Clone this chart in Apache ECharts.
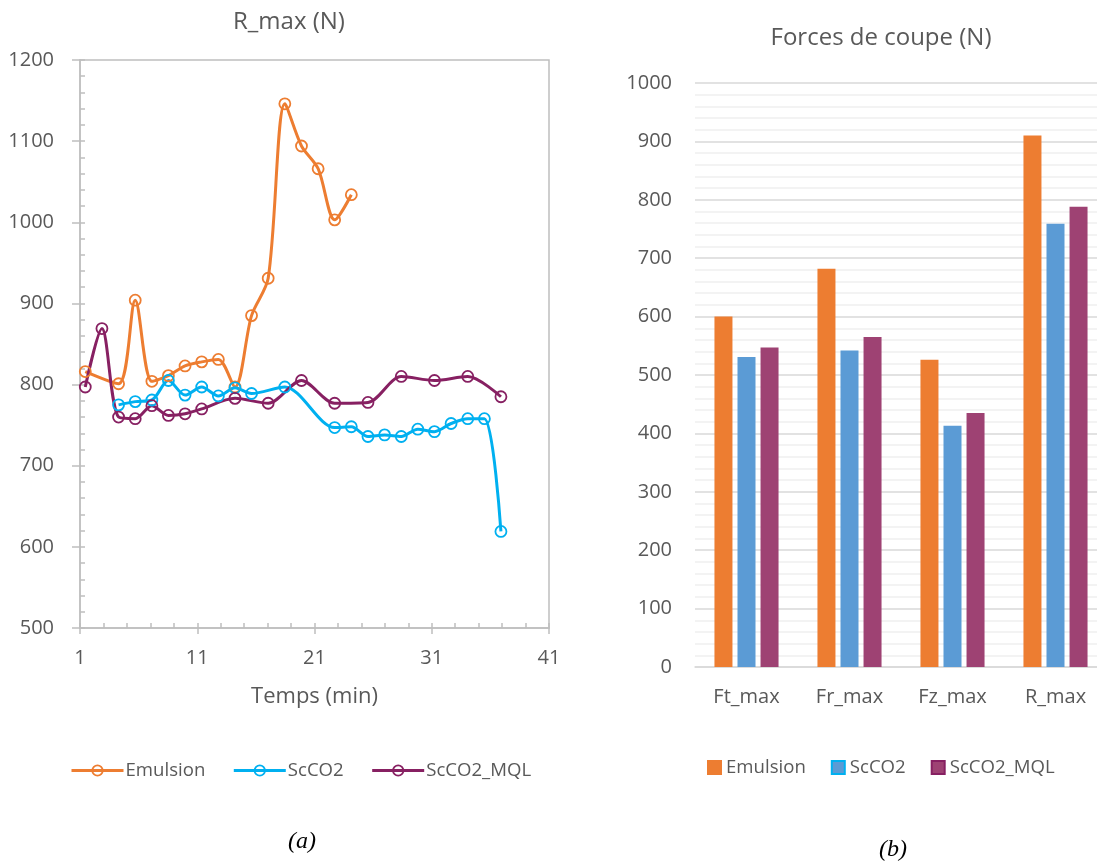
<!DOCTYPE html>
<html><head><meta charset="utf-8">
<script src="https://cdn.jsdelivr.net/npm/echarts@6/dist/echarts.min.js"></script>
<style>html,body{margin:0;padding:0;background:#fff}#c{width:1097px;height:863px}</style>
</head><body><div id="c"></div>
<script>
// ---- Left chart (a): R_max (N) vs Temps (min)
const emulsionT = [1.45, 4.29, 5.71, 7.13, 8.54, 9.96, 11.38, 12.80, 14.22, 15.63, 17.05, 18.47, 19.89, 21.31, 22.72, 24.14];
const emulsionV = [816, 801, 904, 804, 811, 823, 828, 831, 797, 885, 931, 1146, 1094, 1066, 1003, 1034];
const scco2T = [4.29, 5.71, 7.13, 8.54, 9.96, 11.38, 12.80, 14.22, 15.63, 18.47, 22.72, 24.14, 25.56, 26.98, 28.40, 29.81, 31.23, 32.65, 34.07, 35.49, 36.90];
const scco2V = [775, 779, 781, 805, 787, 797, 786, 796, 789, 797, 747, 748, 736, 738, 736, 745, 742, 752, 758, 758, 619];
const mqlT = [1.45, 2.87, 4.29, 5.71, 7.13, 8.54, 9.96, 11.38, 14.22, 17.05, 19.89, 22.72, 25.56, 28.40, 31.23, 34.07, 36.90];
const mqlV = [797, 869, 760, 758, 774, 762, 764, 770, 783, 777, 805, 777, 778, 810, 805, 810, 785];

// ---- Right chart (b): Forces de coupe (N)
const barCats = ['Ft_max', 'Fr_max', 'Fz_max', 'R_max'];
const barEmulsion = [600, 682, 526, 910];
const barScCO2 = [531, 542, 413, 759];
const barMQL = [547, 565, 435, 788];

const seriesNames = ['Emulsion', 'ScCO2', 'ScCO2_MQL'];
const lineColors = ['#ED7D31', '#00B0F0', '#872062'];
const barColors = ['#ED7D31', '#5B9BD5', '#9E4273'];

const FONT = '"Open Sans", "Noto Sans", sans-serif';
const GRAY = '#595959';
const AX = '#bfbfbf';
const plain = v => String(v);

function pairs(t, v) { return t.map((x, i) => [x, v[i]]); }
function lineSeries(name, t, v, color) {
  return {
    name: name, type: 'line', xAxisIndex: 0, yAxisIndex: 0,
    data: pairs(t, v), smooth: 0.3,
    symbol: 'circle', symbolSize: 11,
    lineStyle: { color: color, width: 3 },
    itemStyle: { color: 'rgba(255,255,255,0)', borderColor: color, borderWidth: 1.8 },
    emphasis: { disabled: true }
  };
}
function barSeries(name, v, color) {
  return {
    name: name, type: 'bar', xAxisIndex: 2, yAxisIndex: 2,
    data: v, barWidth: 18, barGap: '28%',
    itemStyle: { color: color }
  };
}

const chart = echarts.init(document.getElementById('c'), null, { renderer: 'canvas' });
chart.setOption({
  animation: false,
  backgroundColor: '#ffffff',
  textStyle: { fontFamily: FONT },
  grid: [
    { left: 80, top: 60, width: 469, height: 568, show: true, borderColor: AX, borderWidth: 1.5, backgroundColor: 'transparent', outerBoundsMode: 'none', containLabel: false },
    { left: 695, top: 83, width: 412, height: 584, outerBoundsMode: 'none', containLabel: false }
  ],
  xAxis: [
    { gridIndex: 0, type: 'value', min: 1, max: 41, interval: 10, position: 'bottom',
      axisLine: { show: true, lineStyle: { color: AX, width: 1.5 } },
      axisTick: { show: true, length: 6, lineStyle: { color: AX, width: 1.5 } },
      axisLabel: { color: GRAY, fontSize: 20, fontFamily: FONT, margin: 20, formatter: plain },
      splitLine: { show: false },
      name: 'Temps (min)', nameLocation: 'middle', nameGap: 58,
      nameTextStyle: { color: GRAY, fontSize: 22, fontFamily: FONT } },
    { gridIndex: 0, type: 'value', min: 1, max: 41, interval: 2, position: 'bottom',
      axisLine: { show: false },
      axisTick: { show: true, inside: true, length: 5, lineStyle: { color: AX, width: 1.5 } },
      axisLabel: { show: false }, splitLine: { show: false } },
    { gridIndex: 1, type: 'category', data: barCats,
      axisLine: { show: true, lineStyle: { color: '#d9d9d9', width: 1.5 } },
      axisTick: { show: false },
      axisLabel: { color: GRAY, fontSize: 20, fontFamily: FONT, margin: 20 } }
  ],
  yAxis: [
    { gridIndex: 0, type: 'value', min: 500, max: 1200, interval: 100, position: 'left',
      axisLine: { show: true, lineStyle: { color: AX, width: 1.5 } },
      axisTick: { show: true, length: 8, lineStyle: { color: AX, width: 1.5 } },
      axisLabel: { color: GRAY, fontSize: 20, fontFamily: FONT, margin: 26, formatter: plain },
      splitLine: { show: false } },
    { gridIndex: 0, type: 'value', min: 500, max: 1200, interval: 20, position: 'left',
      axisLine: { show: false },
      axisTick: { show: true, inside: true, length: 5, lineStyle: { color: AX, width: 1.5 } },
      axisLabel: { show: false }, splitLine: { show: false } },
    { gridIndex: 1, type: 'value', min: 0, max: 1000, interval: 100,
      axisLine: { show: false }, axisTick: { show: false },
      axisLabel: { color: GRAY, fontSize: 20, fontFamily: FONT, margin: 23, formatter: plain },
      splitLine: { show: true, lineStyle: { color: '#d9d9d9', width: 1.5 } },
      minorTick: { show: false, splitNumber: 5 },
      minorSplitLine: { show: true, lineStyle: { color: '#f0f0f0', width: 1.5 } } }
  ],
  legend: [
    { left: 70, top: 761, padding: 0, itemWidth: 52, itemHeight: 13, itemGap: 27,
      data: seriesNames.map((n, i) => ({ name: n, itemStyle: { color: 'rgba(255,255,255,0)', borderColor: lineColors[i], borderWidth: 1.8 }, lineStyle: { color: lineColors[i], width: 3 } })),
      textStyle: { color: GRAY, fontSize: 18.6, fontFamily: FONT, padding: [0, 0, 0, -3] },
      selectedMode: false },
    { left: 707, top: 758, padding: 0, itemWidth: 13, itemHeight: 13, itemGap: 25, icon: 'rect',
      data: seriesNames.map((n, i) => ({ name: n, itemStyle: { color: barColors[i] } })),
      textStyle: { color: GRAY, fontSize: 18.6, fontFamily: FONT },
      selectedMode: false }
  ],
  graphic: [
    { type: 'text', x: 289, y: 22, style: { text: 'R_max (N)', fill: GRAY, font: '24px ' + FONT, textAlign: 'center', textVerticalAlign: 'middle' } },
    { type: 'text', x: 881, y: 38, style: { text: 'Forces de coupe (N)', fill: GRAY, font: '24px ' + FONT, textAlign: 'center', textVerticalAlign: 'middle' } },
    { type: 'text', x: 302, y: 842, style: { text: '(a)', fill: '#000', font: 'italic 24px "Liberation Serif", "DejaVu Serif", serif', textAlign: 'center', textVerticalAlign: 'middle' } },
    { type: 'text', x: 893, y: 850, style: { text: '(b)', fill: '#000', font: 'italic 24px "Liberation Serif", "DejaVu Serif", serif', textAlign: 'center', textVerticalAlign: 'middle' } }
  ],
  series: [
    lineSeries(seriesNames[0], emulsionT, emulsionV, lineColors[0]),
    lineSeries(seriesNames[1], scco2T, scco2V, lineColors[1]),
    lineSeries(seriesNames[2], mqlT, mqlV, lineColors[2]),
    barSeries(seriesNames[0], barEmulsion, barColors[0]),
    barSeries(seriesNames[1], barScCO2, barColors[1]),
    barSeries(seriesNames[2], barMQL, barColors[2])
  ]
});
</script></body></html>
